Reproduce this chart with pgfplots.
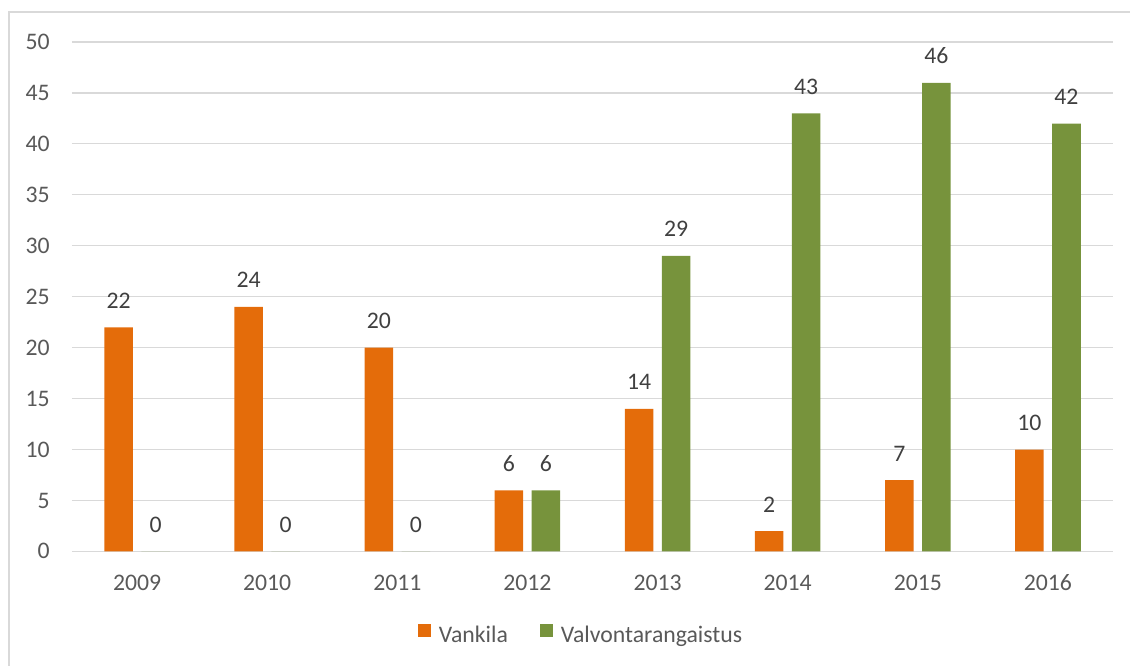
\documentclass[border=0pt]{standalone}
\usepackage{pgfplots}
\pgfplotsset{compat=1.18}
\usepackage{fontspec}
\setmainfont{Carlito}
\definecolor{vank}{HTML}{E46C0A}
\definecolor{valv}{HTML}{77933C}
\definecolor{gridc}{HTML}{D9D9D9}
\definecolor{tickc}{HTML}{595959}
\definecolor{labc}{HTML}{404040}
\begin{document}
\begin{tikzpicture}
\begin{axis}[
  at={(0,0)}, anchor=south west,
  scale only axis,
  width=780.75pt, height=382.125pt,
  xmin=-0.5, xmax=7.5, ymin=0, ymax=50,
  ybar=6.4pt, bar width=21.4pt,
  axis line style={draw=none},
  major tick length=0pt,
  xtick={0,...,7},
  xticklabels={2009,2010,2011,2012,2013,2014,2015,2016},
  ytick={0,5,...,50},
  ymajorgrids, grid style={gridc, line width=0.9pt},
  /pgf/number format/assume math mode=true,
  tick label style={font=\fontsize{17.8}{21}\selectfont, text=tickc, inner sep=0pt},
  xticklabel style={anchor=base, yshift=-28.9pt},
  yticklabel style={anchor=base east, xshift=-16.5pt, yshift=-5.6pt},
  nodes near coords,
  every node near coord/.append style={font=\fontsize{17.8}{21}\selectfont, text=labc, anchor=base, inner sep=0pt, yshift=14.25pt},
  legend columns=2,
  legend style={draw=none, fill=none, at={(0.488,-0.162)}, anchor=center,
    font=\fontsize{17.8}{21}\selectfont, text=tickc,
    nodes={inner sep=0pt},
    /tikz/every odd column/.append style={column sep=6pt},
    /tikz/every even column/.append style={column sep=24pt}},
  legend image code/.code={\fill[#1] (0pt,-1.1pt) rectangle (9.75pt,8.65pt);},
]
\addplot[fill=vank, draw=none] coordinates {(0,22) (1,24) (2,20) (3,6) (4,14) (5,2) (6,7) (7,10)};
\addplot[fill=valv, draw=none] coordinates {(0,0) (1,0) (2,0) (3,6) (4,29) (5,43) (6,46) (7,42)};
\legend{Vankila, Valvontarangaistus}
\end{axis}
\pgfresetboundingbox
\path[use as bounding box] (-54pt,-85.875pt) rectangle (793.5pt,413.625pt);
\draw[gridc, line width=1pt] (-47.25pt,-120pt) -- (-47.25pt,404.6pt) -- (830pt,404.6pt);
\end{tikzpicture}
\end{document}
